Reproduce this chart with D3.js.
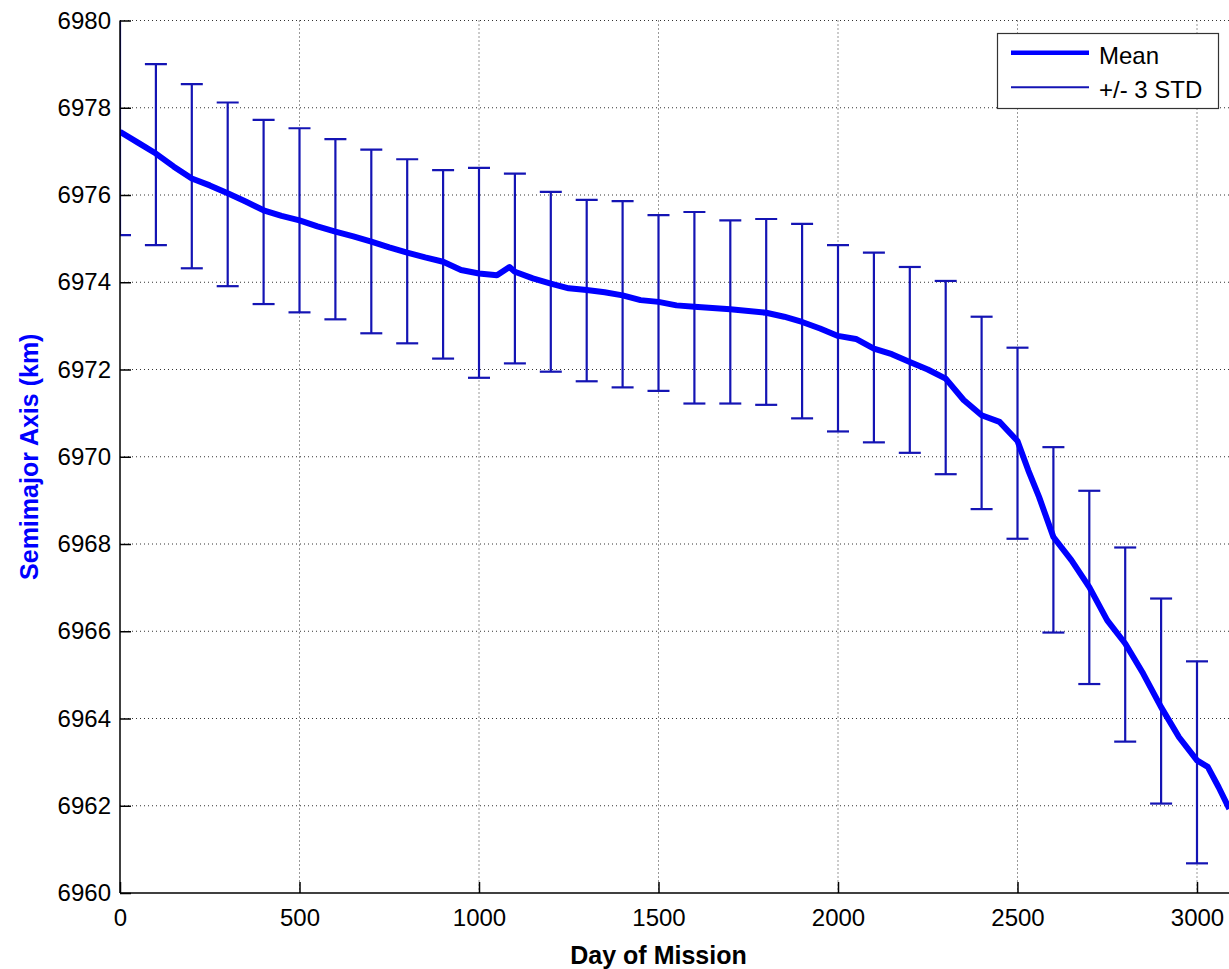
<!DOCTYPE html>
<html lang="en">
<head>
  <meta charset="UTF-8">
  <title>Semimajor Axis vs Day of Mission</title>
  <script src="https://d3js.org/d3.v7.min.js"></script>
  <style>
    body { margin: 0; background: #fff; }
    svg text { font-family: "Liberation Sans", Arial, sans-serif; }
    .grid line { stroke: #333; stroke-width: 1; stroke-dasharray: 1,3; }
    .axis path, .axis line { stroke: #000; stroke-width: 1.5; }
    .axis text { font-size: 24px; fill: #000; }
  </style>
</head>
<body>
  <svg width="1229" height="969"></svg>

  <script>
    // mean semimajor axis
    const meanDays = [0, 50, 100, 150, 200, 250, 300, 350, 400, 450, 500, 550, 600, 650, 700, 750,
      800, 850, 900, 950, 1000, 1050, 1085, 1100, 1150, 1200, 1250, 1300, 1350, 1400, 1450, 1500,
      1550, 1600, 1700, 1800, 1850, 1900, 1950, 2000, 2050, 2100, 2150, 2200, 2250, 2300, 2350,
      2400, 2450, 2500, 2530, 2560, 2600, 2650, 2700, 2750, 2800, 2850, 2900, 2950, 3000, 3030,
      3060, 3090];
    const meanValues = [6977.45, 6977.2, 6976.95, 6976.65, 6976.38, 6976.22, 6976.04, 6975.85,
      6975.65, 6975.52, 6975.42, 6975.28, 6975.16, 6975.05, 6974.93, 6974.8, 6974.68, 6974.57,
      6974.47, 6974.28, 6974.2, 6974.16, 6974.35, 6974.24, 6974.09, 6973.97, 6973.86, 6973.82,
      6973.77, 6973.7, 6973.59, 6973.55, 6973.47, 6973.44, 6973.38, 6973.3, 6973.21, 6973.09,
      6972.94, 6972.77, 6972.7, 6972.48, 6972.35, 6972.17, 6972.0, 6971.79, 6971.3, 6970.95,
      6970.8, 6970.36, 6969.69, 6969.08, 6968.16, 6967.63, 6967.01, 6966.25, 6965.72, 6965.03,
      6964.26, 6963.57, 6963.04, 6962.89, 6962.43, 6961.93];

    // +/- 3 STD error bars every 100 days
    const errDays = d3.range(0, 3001, 100);
    const errUpper = [6980.5, 6979.0, 6978.54, 6978.12, 6977.72, 6977.53, 6977.28, 6977.04,
      6976.82, 6976.57, 6976.62, 6976.49, 6976.07, 6975.89, 6975.86, 6975.54, 6975.61, 6975.42,
      6975.45, 6975.34, 6974.85, 6974.68, 6974.35, 6974.03, 6973.21, 6972.5, 6970.22, 6969.22,
      6967.92, 6966.75, 6965.31];
    const errLower = [6975.08, 6974.85, 6974.32, 6973.91, 6973.5, 6973.31, 6973.15, 6972.83,
      6972.6, 6972.25, 6971.81, 6972.14, 6971.95, 6971.73, 6971.59, 6971.51, 6971.22, 6971.22,
      6971.19, 6970.88, 6970.58, 6970.33, 6970.09, 6969.6, 6968.8, 6968.12, 6965.97, 6964.79,
      6963.47, 6962.05, 6960.68];

    const xTicks = [0, 500, 1000, 1500, 2000, 2500, 3000];
    const yTicks = [6960, 6962, 6964, 6966, 6968, 6970, 6972, 6974, 6976, 6978, 6980];

    const meanColor = "#0000ff";
    const errColor = "#1414b4";

    // plot box in pixels (px3000 = where day 3000 falls)
    const padLeft = 120, padTop = 20.5, padBottom = 893, px3000 = 1197;

    const svg = d3.select("svg");

    const x = d3.scaleLinear().domain([0, 3000]).range([padLeft, px3000]);
    const y = d3.scaleLinear().domain([6960, 6980]).range([padBottom, padTop]);

    svg.append("defs").append("clipPath").attr("id", "plot")
      .append("rect")
      .attr("x", padLeft).attr("y", padTop)
      .attr("width", 1229 - padLeft).attr("height", padBottom - padTop);

    // dotted grid
    svg.append("g").attr("class", "grid")
      .selectAll("line").data(yTicks.slice(1))
      .join("line")
        .attr("x1", padLeft).attr("x2", 1229)
        .attr("y1", d => y(d)).attr("y2", d => y(d));
    svg.append("g").attr("class", "grid")
      .selectAll("line").data(xTicks.slice(1))
      .join("line")
        .attr("x1", d => x(d)).attr("x2", d => x(d))
        .attr("y1", padTop).attr("y2", padBottom);

    const plot = svg.append("g").attr("clip-path", "url(#plot)");

    // error bars
    const errData = errDays.map((d, i) => ({ day: d, hi: errUpper[i], lo: errLower[i] }));
    const eb = plot.append("g")
      .attr("stroke", errColor).attr("stroke-width", 2.2).attr("fill", "none");
    eb.selectAll(".v").data(errData).join("line").attr("class", "v")
      .attr("x1", d => x(d.day)).attr("x2", d => x(d.day))
      .attr("y1", d => y(d.hi)).attr("y2", d => y(d.lo));
    eb.selectAll(".hi").data(errData).join("line").attr("class", "hi")
      .attr("x1", d => x(d.day) - 11).attr("x2", d => x(d.day) + 11)
      .attr("y1", d => y(d.hi)).attr("y2", d => y(d.hi));
    eb.selectAll(".lo").data(errData).join("line").attr("class", "lo")
      .attr("x1", d => x(d.day) - 11).attr("x2", d => x(d.day) + 11)
      .attr("y1", d => y(d.lo)).attr("y2", d => y(d.lo));

    // mean line
    const meanData = meanDays.map((d, i) => ({ day: d, v: meanValues[i] }));
    plot.append("path")
      .datum(meanData)
      .attr("fill", "none")
      .attr("stroke", meanColor)
      .attr("stroke-width", 6)
      .attr("stroke-linejoin", "round")
      .attr("d", d3.line().x(d => x(d.day)).y(d => y(d.v)));

    // axes, ticks pointing inward like MATLAB
    svg.append("g").attr("class", "axis")
      .attr("transform", `translate(0,${padBottom})`)
      .call(d3.axisBottom(x).tickValues(xTicks).tickSize(-11).tickPadding(16).tickFormat(d3.format("d")))
      .call(g => g.select(".domain").attr("d", `M${padLeft},0H1229`));
    svg.append("g").attr("class", "axis")
      .attr("transform", `translate(${padLeft},0)`)
      .call(d3.axisLeft(y).tickValues(yTicks).tickSize(-11).tickPadding(9).tickFormat(d3.format("d")))
      .call(g => g.select(".domain").attr("d", `M0,${padTop}V${padBottom}`));

    // axis titles
    svg.append("text")
      .attr("x", x(1500)).attr("y", 964)
      .attr("text-anchor", "middle")
      .style("font-size", "25px").style("font-weight", "bold")
      .text("Day of Mission");
    svg.append("text")
      .attr("transform", `translate(38,${(padTop + padBottom) / 2}) rotate(-90)`)
      .attr("text-anchor", "middle")
      .style("font-size", "25px").style("font-weight", "bold")
      .style("fill", meanColor)
      .text("Semimajor Axis (km)");

    // legend
    const lg = svg.append("g");
    lg.append("rect")
      .attr("x", 997.5).attr("y", 33.5).attr("width", 221).attr("height", 75)
      .attr("fill", "#fff").attr("stroke", "#333").attr("stroke-width", 1.2);
    lg.append("line").attr("x1", 1011).attr("x2", 1089).attr("y1", 52.7).attr("y2", 52.7)
      .attr("stroke", meanColor).attr("stroke-width", 4.5);
    lg.append("line").attr("x1", 1011).attr("x2", 1089).attr("y1", 87.3).attr("y2", 87.3)
      .attr("stroke", errColor).attr("stroke-width", 2);
    lg.append("text").attr("x", 1099).attr("y", 63.5).style("font-size", "24px").text("Mean");
    lg.append("text").attr("x", 1099).attr("y", 98.3).style("font-size", "24px").text("+/- 3 STD");
  </script>
</body>
</html>
